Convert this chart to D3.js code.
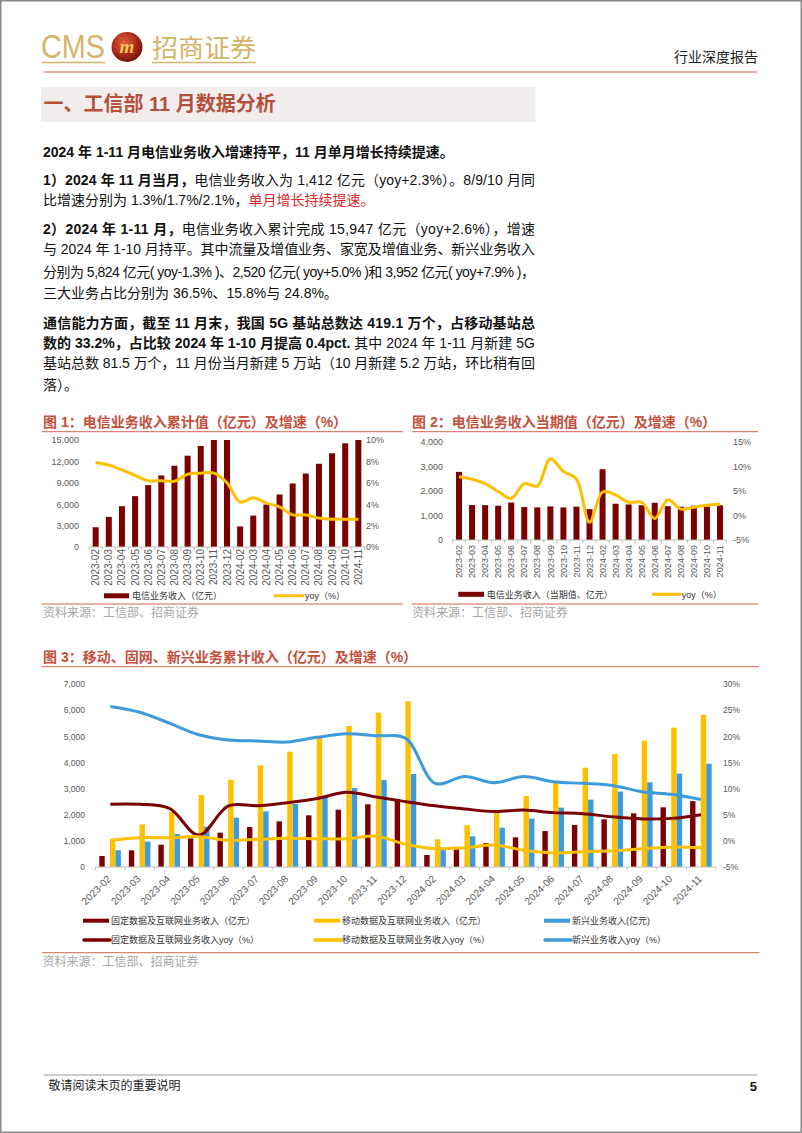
<!DOCTYPE html>
<html><head><meta charset="utf-8">
<script src="https://cdn.jsdelivr.net/npm/d3@7"></script>
<style>html,body{margin:0;padding:0;background:#fff}svg{display:block}</style>
</head><body>
<script>
// ---------- DATA ----------
const months = ["2023-02","2023-03","2023-04","2023-05","2023-06","2023-07","2023-08","2023-09","2023-10","2023-11","2023-12",
                "2024-02","2024-03","2024-04","2024-05","2024-06","2024-07","2024-08","2024-09","2024-10","2024-11"];
// Fig 1: cumulative telecom revenue (亿元) and yoy (%)
const cumRevenue = [2770,4220,5720,7130,8670,10030,11390,12800,14160,15543,16800,2880,4400,5950,7360,8900,10300,11670,13140,14535,15947];
const cumYoy = [7.9,7.66,7.2,6.7,6.2,6.2,6.15,6.8,6.9,6.9,6.0,4.2,4.6,4.1,3.75,3.0,3.0,2.7,2.6,2.6,2.6];
// Fig 2: monthly telecom revenue (亿元) and yoy (%)
const monthRevenue = [2780,1424,1424,1400,1530,1345,1330,1370,1330,1360,1260,2890,1480,1450,1420,1520,1380,1360,1400,1360,1412];
const monthYoy = [7.9,7.4,6.5,4.9,3.5,6.5,6.0,11.6,9.0,7.4,-1.4,4.8,4.2,2.7,2.7,-0.6,3.2,1.3,1.7,2.1,2.3];
// Fig 3: cumulative revenue by business (亿元) and yoy (%)
const fixedRev    = [420,638,853,1095,1313,1530,1747,1977,2193,2398,2590,459,676,918,1135,1377,1607,1824,2053,2283,2520];
const mobileRev   = [1040,1632,2100,2750,3340,3890,4410,4960,5394,5903,6340,1055,1595,2104,2716,3226,3800,4323,4832,5330,5824];
const emergingRev = [640,970,1262,1543,1887,2130,2410,2670,3020,3327,3557,750,1173,1505,1849,2270,2576,2882,3240,3570,3952];
const fixedYoy    = [7.0,7.0,6.2,1.1,6.7,6.7,7.3,8.1,9.3,8.4,7.5,6.7,6.1,5.6,5.9,5.4,5.2,4.6,4.2,4.3,5.0];
const mobileYoy   = [0.1,0.6,0.6,0.8,0.1,0.3,0.5,0.4,0.4,0.9,-0.65,-1.5,-1.3,-0.8,-1.8,-2.3,-2.1,-1.9,-1.5,-1.2,-1.3];
const emergingYoy = [25.7,24.6,22.5,20.3,19.3,19.1,18.9,19.8,20.5,20.1,19.6,11.0,12.3,11.1,12.3,11.3,11.0,10.6,9.4,8.9,7.9];
// tick labels
const fig1LeftTicks = [0,3000,6000,9000,12000,15000];
const fig1RightTicks = [0,2,4,6,8,10];
const fig2LeftTicks = [0,1000,2000,3000,4000];
const fig2RightTicks = [-5,0,5,10,15];
const fig3LeftTicks = [0,1000,2000,3000,4000,5000,6000,7000];
const fig3RightTicks = [-5,0,5,10,15,20,25,30];
// legend labels
const fig1Legend = ["电信业务收入（亿元）","yoy（%）"];
const fig2Legend = ["电信业务收入（当期值、亿元）","yoy（%）"];
const fig3Legend = [["固定数据及互联网业务收入（亿元）","移动数据及互联网业务收入（亿元）","新兴业务收入(亿元)"],
                    ["固定数据及互联网业务收入yoy（%）","移动数据及互联网业务收入yoy（%）","新兴业务收入yoy（%）"]];

// ---------- STYLE ----------
const FONT = "'Liberation Sans','Noto Sans CJK SC',sans-serif";
const CJK = "'Noto Sans CJK SC','Liberation Sans',sans-serif";
const DARK = "#7B0000", YEL = "#FFC000", BLUE = "#3D9BDB";
const GOLD = "#D5B46A", CAP = "#C4503C", AXIS = "#BFBFBF", LBL = "#595959";

const svg = d3.select("body").append("svg").attr("width",802).attr("height",1133);
svg.append("rect").attr("width",802).attr("height",1133).attr("fill","#fff");
svg.append("rect").attr("x",0.75).attr("y",0.75).attr("width",800.5).attr("height",1131.5)
   .attr("fill","none").attr("stroke","#8a8a8a").attr("stroke-width",1.5);

// ---------- HEADER ----------
svg.append("text").attr("x",41).attr("y",58).attr("font-family","'Liberation Sans Narrow','Liberation Sans',sans-serif")
   .attr("font-size",33).attr("fill",GOLD).attr("textLength",64).attr("lengthAdjust","spacingAndGlyphs").text("CMS");
const defs = svg.append("defs");
const rg = defs.append("radialGradient").attr("id","lg").attr("cx","40%").attr("cy","35%").attr("r","70%");
rg.append("stop").attr("offset","0%").attr("stop-color","#E8603A");
rg.append("stop").attr("offset","60%").attr("stop-color","#A8281A");
rg.append("stop").attr("offset","100%").attr("stop-color","#6A1208");
svg.append("ellipse").attr("cx",127).attr("cy",47).attr("rx",15.5).attr("ry",15).attr("fill","url(#lg)");
svg.append("text").attr("x",127).attr("y",53).attr("text-anchor","middle").attr("font-family","'Liberation Serif',serif")
   .attr("font-style","italic").attr("font-weight","bold").attr("font-size",19).attr("fill","#F2C75A").text("m");
svg.append("text").attr("x",152).attr("y",57).attr("font-family",CJK).attr("font-size",25).attr("fill",GOLD)
   .attr("textLength",104).attr("lengthAdjust","spacingAndGlyphs").text("招商证券");
[[42,105],[152,256]].forEach(([a,b])=>svg.append("line").attr("x1",a).attr("x2",b).attr("y1",62.5).attr("y2",62.5)
   .attr("stroke",GOLD).attr("stroke-width",1.3));
svg.append("text").attr("x",758).attr("y",62).attr("text-anchor","end").attr("font-family",CJK).attr("font-size",14)
   .attr("fill","#222").text("行业深度报告");
svg.append("line").attr("x1",43.5).attr("x2",757).attr("y1",72).attr("y2",72).attr("stroke","#C8614F").attr("stroke-width",1);

// section heading
svg.append("rect").attr("x",41).attr("y",87).attr("width",494.5).attr("height",35).attr("fill","#F3EEEE");
svg.append("text").attr("x",43.5).attr("y",111).attr("font-family",FONT).attr("font-weight","bold").attr("font-size",20)
   .attr("fill","#B5503D").text("一、工信部 11 月数据分析");

// ---------- BODY TEXT ----------
const bodyLines = [
 {y:157, j:false, segs:[["b","2024 年 1-11 月电信业务收入增速持平，11 月单月增长持续提速。"]]},
 {y:185, j:true,  segs:[["b","1）2024 年 11 月当月，"],["n","电信业务收入为 1,412 亿元（yoy+2.3%）。8/9/10 月同"]]},
 {y:205, j:false, segs:[["n","比增速分别为 1.3%/1.7%/2.1%，"],["r","单月增长持续提速。"]]},
 {y:234, j:true,  segs:[["b","2）2024 年 1-11 月，"],["n","电信业务收入累计完成 15,947 亿元（yoy+2.6%），增速"]]},
 {y:254, j:true,  segs:[["n","与 2024 年 1-10 月持平。其中流量及增值业务、家宽及增值业务、新兴业务收入"]]},
 {y:277, j:true,  segs:[["n","分别为 5,824 亿元( yoy-1.3% )、2,520 亿元( yoy+5.0% )和 3,952 亿元( yoy+7.9% )，"]]},
 {y:298, j:false, segs:[["n","三大业务占比分别为 36.5%、15.8%与 24.8%。"]]},
 {y:328, j:true,  segs:[["b","通信能力方面，截至 11 月末，我国 5G 基站总数达 419.1 万个，占移动基站总"]]},
 {y:348, j:true,  segs:[["b","数的 33.2%，占比较 2024 年 1-10 月提高 0.4pct. "],["n","其中 2024 年 1-11 月新建 5G"]]},
 {y:368, j:true,  segs:[["n","基站总数 81.5 万个，11 月份当月新建 5 万站（10 月新建 5.2 万站，环比稍有回"]]},
 {y:390, j:false, segs:[["n","落）。"]]}
];
bodyLines.forEach(l=>{
  const t = svg.append("text").attr("x",43).attr("y",l.y).attr("font-family",FONT).attr("font-size",14)
     .attr("xml:space","preserve");
  if(l.j) t.attr("textLength",492).attr("lengthAdjust","spacing");
  l.segs.forEach(([k,s])=>t.append("tspan").attr("font-weight",k==="b"?"bold":"normal")
     .attr("fill",k==="r"?"#E0262A":"#111").text(s));
});

// ---------- helpers ----------
function caption(x,y,x1,x2,ry,str){
  svg.append("text").attr("x",x).attr("y",y).attr("font-family",FONT).attr("font-weight","bold").attr("font-size",14)
     .attr("fill",CAP).text(str);
  svg.append("line").attr("x1",x1).attr("x2",x2).attr("y1",ry).attr("y2",ry).attr("stroke","#D0674F").attr("stroke-width",1);
}
function source(x,y,x1,x2,ry){
  if(ry) svg.append("line").attr("x1",x1).attr("x2",x2).attr("y1",ry).attr("y2",ry).attr("stroke","#D0674F").attr("stroke-width",1);
  svg.append("text").attr("x",x).attr("y",y).attr("font-family",CJK).attr("font-size",12).attr("fill","#A6A6A6").text("资料来源：工信部、招商证券");
}
function styleAxis(g,size){
  g.select(".domain").remove(); g.selectAll("line").remove();
  g.selectAll("text").attr("font-family",FONT).attr("font-size",size).attr("fill",LBL);
}
function xAxisLine(x,y0){
  const r = x.range();
  svg.append("line").attr("x1",r[0]).attr("x2",r[1]).attr("y1",y0).attr("y2",y0).attr("stroke",AXIS).attr("stroke-width",1);
  const bounds = x.domain().map(d=>x(d)).concat([r[1]]);
  svg.append("g").selectAll("line").data(bounds).join("line").attr("x1",d=>d).attr("x2",d=>d)
     .attr("y1",y0).attr("y2",y0+3).attr("stroke",AXIS);
}

// ---------- FIG 1 ----------
caption(43,427,41.7,403,431.7,"图 1：电信业务收入累计值（亿元）及增速（%）");
{
  const x = d3.scaleBand().domain(months).range([89.1,364.9]);
  const y = d3.scaleLinear().domain([0,15000]).range([547,440]);
  const yr = d3.scaleLinear().domain([0,10]).range([547,440]);
  defs.append("clipPath").attr("id","c1").append("rect").attr("x",85).attr("y",440).attr("width",285).attr("height",110);
  const g = svg.append("g").attr("clip-path","url(#c1)");
  g.selectAll("rect").data(cumRevenue).join("rect")
    .attr("x",(d,i)=>x(months[i])+x.bandwidth()/2-3).attr("width",6)
    .attr("y",d=>y(d)).attr("height",d=>y(0)-y(d)).attr("fill",DARK);
  xAxisLine(x,547);
  svg.append("path").datum(cumYoy).attr("fill","none").attr("stroke",YEL).attr("stroke-width",3)
    .attr("d",d3.line().x((d,i)=>x(months[i])+x.bandwidth()/2).y(d=>yr(d)).curve(d3.curveCatmullRom));
  styleAxis(svg.append("g").attr("transform","translate(80,0)")
    .call(d3.axisLeft(y).tickValues(fig1LeftTicks).tickFormat(d3.format(",")).tickSize(0).tickPadding(1)),9);
  styleAxis(svg.append("g").attr("transform","translate(366,0)")
    .call(d3.axisRight(yr).tickValues(fig1RightTicks).tickFormat(d=>d+"%").tickSize(0).tickPadding(0)),9);
  const xa = svg.append("g").attr("transform","translate(0,547)").call(d3.axisBottom(x).tickSize(0));
  styleAxis(xa,10);
  xa.selectAll("text").attr("transform","rotate(-90)").attr("x",-2).attr("y",0).attr("dy","0.35em").attr("text-anchor","end");
  // legend
  svg.append("rect").attr("x",104).attr("y",593.3).attr("width",25).attr("height",5).attr("fill",DARK);
  svg.append("text").attr("x",132).attr("y",599).attr("font-family",FONT).attr("font-size",9).attr("fill","#333").text(fig1Legend[0]);
  svg.append("line").attr("x1",275).attr("x2",303).attr("y1",595.7).attr("y2",595.7).attr("stroke",YEL).attr("stroke-width",3).attr("stroke-linecap","round");
  svg.append("text").attr("x",305).attr("y",599).attr("font-family",FONT).attr("font-size",9).attr("fill","#333").text(fig1Legend[1]);
  source(43,617,41.7,403,604);
}

// ---------- FIG 2 ----------
caption(412,427,411.7,758,431.7,"图 2：电信业务收入当期值（亿元）及增速（%）");
{
  const x = d3.scaleBand().domain(months).range([452.5,726.5]);
  const y = d3.scaleLinear().domain([0,4000]).range([540,442]);
  const yr = d3.scaleLinear().domain([-5,15]).range([540,442]);
  svg.append("g").selectAll("rect").data(monthRevenue).join("rect")
    .attr("x",(d,i)=>x(months[i])+x.bandwidth()/2-3).attr("width",6)
    .attr("y",d=>y(d)).attr("height",d=>y(0)-y(d)).attr("fill",DARK);
  xAxisLine(x,540);
  svg.append("path").datum(monthYoy).attr("fill","none").attr("stroke",YEL).attr("stroke-width",3)
    .attr("d",d3.line().x((d,i)=>x(months[i])+x.bandwidth()/2).y(d=>yr(d)).curve(d3.curveCatmullRom));
  styleAxis(svg.append("g").attr("transform","translate(444,0)")
    .call(d3.axisLeft(y).tickValues(fig2LeftTicks).tickFormat(d3.format(",")).tickSize(0).tickPadding(1)),9);
  styleAxis(svg.append("g").attr("transform","translate(733,0)")
    .call(d3.axisRight(yr).tickValues(fig2RightTicks).tickFormat(d=>d+"%").tickSize(0).tickPadding(0)),9);
  const xa = svg.append("g").attr("transform","translate(0,540)").call(d3.axisBottom(x).tickSize(0));
  styleAxis(xa,9);
  xa.selectAll("text").attr("transform","rotate(-90)").attr("x",-5).attr("y",0).attr("dy","0.35em").attr("text-anchor","end");
  svg.append("rect").attr("x",458.3).attr("y",591.8).attr("width",25.7).attr("height",5).attr("fill",DARK);
  svg.append("text").attr("x",486.7).attr("y",597.5).attr("font-family",FONT).attr("font-size",9).attr("fill","#333").text(fig2Legend[0]);
  svg.append("line").attr("x1",653.3).attr("x2",680).attr("y1",594.3).attr("y2",594.3).attr("stroke",YEL).attr("stroke-width",3).attr("stroke-linecap","round");
  svg.append("text").attr("x",681.7).attr("y",597.5).attr("font-family",FONT).attr("font-size",9).attr("fill","#333").text(fig2Legend[1]);
  source(412,617,411.7,758,604);
}

// ---------- FIG 3 ----------
caption(43,662,41.7,759,666.7,"图 3：移动、固网、新兴业务累计收入（亿元）及增速（%）");
{
  const x = d3.scaleBand().domain(months).range([95.5,715.8]);
  const y = d3.scaleLinear().domain([0,7000]).range([867,684]);
  const yr = d3.scaleLinear().domain([-5,30]).range([867,684]);
  const series = [[fixedRev,DARK,3.8],[mobileRev,YEL,14.5],[emergingRev,BLUE,20.0]];
  series.forEach(([vals,col,off])=>{
    svg.append("g").selectAll("rect").data(vals).join("rect")
      .attr("x",(d,i)=>x(months[i])+off).attr("width",5.4)
      .attr("y",d=>y(d)).attr("height",d=>y(0)-y(d)).attr("fill",col);
  });
  xAxisLine(x,867);
  const line = d3.line().x((d,i)=>x(months[i])+x.bandwidth()/2).y(d=>yr(d)).curve(d3.curveCatmullRom);
  [[fixedYoy,DARK],[mobileYoy,YEL],[emergingYoy,BLUE]].forEach(([vals,col])=>
    svg.append("path").datum(vals).attr("fill","none").attr("stroke",col).attr("stroke-width",3).attr("d",line));
  styleAxis(svg.append("g").attr("transform","translate(86,0)")
    .call(d3.axisLeft(y).tickValues(fig3LeftTicks).tickFormat(d3.format(",")).tickSize(0).tickPadding(1)),8.5);
  styleAxis(svg.append("g").attr("transform","translate(723,0)")
    .call(d3.axisRight(yr).tickValues(fig3RightTicks).tickFormat(d=>d+"%").tickSize(0).tickPadding(0)),8.5);
  const xa = svg.append("g").attr("transform","translate(0,867)").call(d3.axisBottom(x).tickSize(0));
  styleAxis(xa,10);
  xa.selectAll("text").attr("x",0).attr("y",0).attr("dy","0.35em").attr("text-anchor","end")
    .attr("transform","translate(-1,10) rotate(-45)");
  // legend
  const cols = [DARK,YEL,BLUE], lx = [83,314,544];
  fig3Legend.forEach((row,r)=>{
    const yy = r===0?920.7:940;
    row.forEach((lab,k)=>{
      if(r===0) svg.append("rect").attr("x",lx[k]).attr("y",yy-2).attr("width",26).attr("height",4).attr("fill",cols[k]);
      else svg.append("line").attr("x1",lx[k]+1).attr("x2",lx[k]+27).attr("y1",yy).attr("y2",yy).attr("stroke",cols[k])
              .attr("stroke-width",3.5).attr("stroke-linecap","round");
      svg.append("text").attr("x",lx[k]+28).attr("y",yy+3.2).attr("font-family",FONT).attr("font-size",9).attr("fill","#333").text(lab);
    });
  });
  source(42.5,966,42.3,759.4,952.7);
}

// ---------- FOOTER ----------
svg.append("line").attr("x1",43.5).attr("x2",757).attr("y1",1075).attr("y2",1075).attr("stroke","#999").attr("stroke-width",1);
svg.append("text").attr("x",48.5).attr("y",1090).attr("font-family",CJK).attr("font-size",12).attr("fill","#222").text("敬请阅读末页的重要说明");
svg.append("text").attr("x",757).attr("y",1091).attr("text-anchor","end").attr("font-family",FONT).attr("font-weight","bold")
   .attr("font-size",13).attr("fill","#111").text("5");
</script>
</body></html>
